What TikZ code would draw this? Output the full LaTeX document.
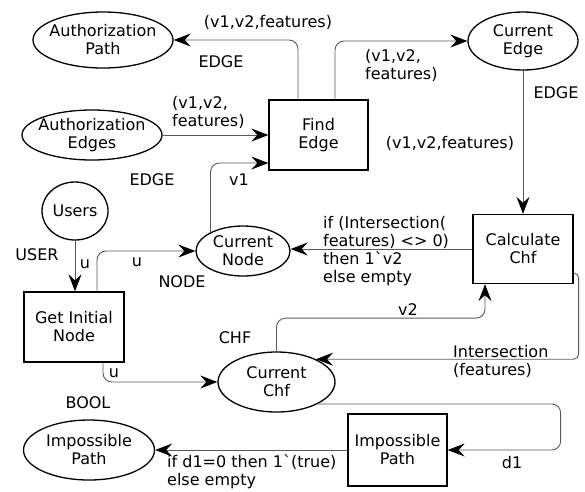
\documentclass[tikz,border=0pt]{standalone}
\usepackage{fontspec}
\setmainfont{DejaVu Sans}
\usetikzlibrary{shapes.geometric,arrows.meta,calc}
\begin{document}
\begin{tikzpicture}[x=1pt,y=-1pt,
  every node/.style={font=\fontsize{16}{18}\selectfont},
  place/.style={ellipse,draw,line width=1.3pt,inner xsep=-8pt,inner ysep=-2pt,align=center},
  trans/.style={rectangle,draw,line width=1.3pt,inner sep=0pt,align=center},
  arc/.style={draw=black!65,line width=0.9pt,rounded corners=9pt,-{Stealth[length=17pt,width=13pt,inset=6pt,color=black]}},
  lbl/.style={inner sep=0pt,align=left}
]
\useasboundingbox (0,0) rectangle (585,491);

\node[place,minimum width=140pt,minimum height=56pt] (ap) at (103,40) {Authorization\\Path};
\node[place,minimum width=140pt,minimum height=50pt] (ae) at (92,135) {Authorization\\Edges};
\node[place,minimum width=66pt,minimum height=58pt] (us) at (75,211) {Users};
\node[trans,minimum width=99pt,minimum height=70pt] (fe) at (318.5,135) {Find\\Edge};
\node[place,minimum width=110pt,minimum height=58pt] (ce) at (523,41) {Current\\Edge};
\node[trans,minimum width=100pt,minimum height=69pt] (cc) at (523,249) {Calculate\\Chf};
\node[place,minimum width=94pt,minimum height=50pt] (cn) at (243,251) {Current\\Node};
\node[trans,minimum width=100pt,minimum height=70pt] (gi) at (74,327) {Get Initial\\Node};
\node[place,minimum width=117pt,minimum height=60pt] (ch) at (276.5,382) {Current\\Chf};
\node[place,minimum width=131pt,minimum height=60pt] (ip) at (89,450) {Impossible\\Path};
\node[trans,minimum width=99pt,minimum height=72pt] (it) at (397.5,450) {Impossible\\Path};

\draw[arc] ([xshift=-20.5pt]fe.north) |- (ap.east);
\draw[arc] ([xshift=16.5pt]fe.north) |- (ce.west);
\draw[arc] (ae.east) -- (fe.west);
\draw[arc] (cn.150) |- ([yshift=-28pt]fe.west);
\draw[arc] (ce.south) -- (cc.north);
\draw[arc] (cc.west) -- (cc.west -| cn.east);
\draw[arc] (us.south) -- (us.south |- gi.north);
\draw[arc] ([xshift=23pt]gi.north) |- (cn.west);
\draw[arc] ([xshift=29pt]gi.south) |- (ch.west);
\draw[arc] (ch.north) |- ([xshift=-38pt,yshift=-34pt]cc.south) -- ([xshift=-38pt]cc.south);
\draw[arc,rounded corners=5pt] ([yshift=-24pt]cc.east) -- ++(5,0) |- (ch.30);
\coordinate (r12) at ([xshift=113pt]it.east);
\draw[arc] (ch.-28) -| (r12) -- (it.east);
\draw[arc] (it.west) -- (ip.east);

\node[lbl] (l1) at (268,22) {(v1,v2,features)};
\node[lbl] (l2) at (221,62) {EDGE};
\node[lbl,anchor=west] (l3) at (365,65) {(v1,v2,\\features)};
\node[lbl,anchor=west] (l4) at (172,112) {(v1,v2,\\features)};
\node[lbl] (l5) at (152,180) {EDGE};
\node[lbl] (l6) at (239,180) {v1};
\node[lbl] (l7) at (556,93) {EDGE};
\node[lbl] (l8) at (450,143) {(v1,v2,features)};
\node[lbl,anchor=west] (l9) at (323,251) {if (Intersection(\\features) <> 0)\\then 1\textasciigrave v2\\else empty};
\node[lbl] (l10) at (37,255) {USER};
\node[lbl] (l11) at (85,264) {u};
\node[lbl] (l12) at (137,262) {u};
\node[lbl] (l13) at (182,282) {NODE};
\node[lbl] (l14) at (114,373) {u};
\node[lbl] (l15) at (235,338) {CHF};
\node[lbl] (l16) at (88,403) {BOOL};
\node[lbl] (l17) at (408,310) {v2};
\node[lbl,anchor=west] (l18) at (453,361) {Intersection\\(features)};
\node[lbl] (l19) at (512,463) {d1};
\node[lbl,anchor=west] (l20) at (167,472) {if d1=0 then 1\textasciigrave(true)\\else empty};
\end{tikzpicture}
\end{document}
